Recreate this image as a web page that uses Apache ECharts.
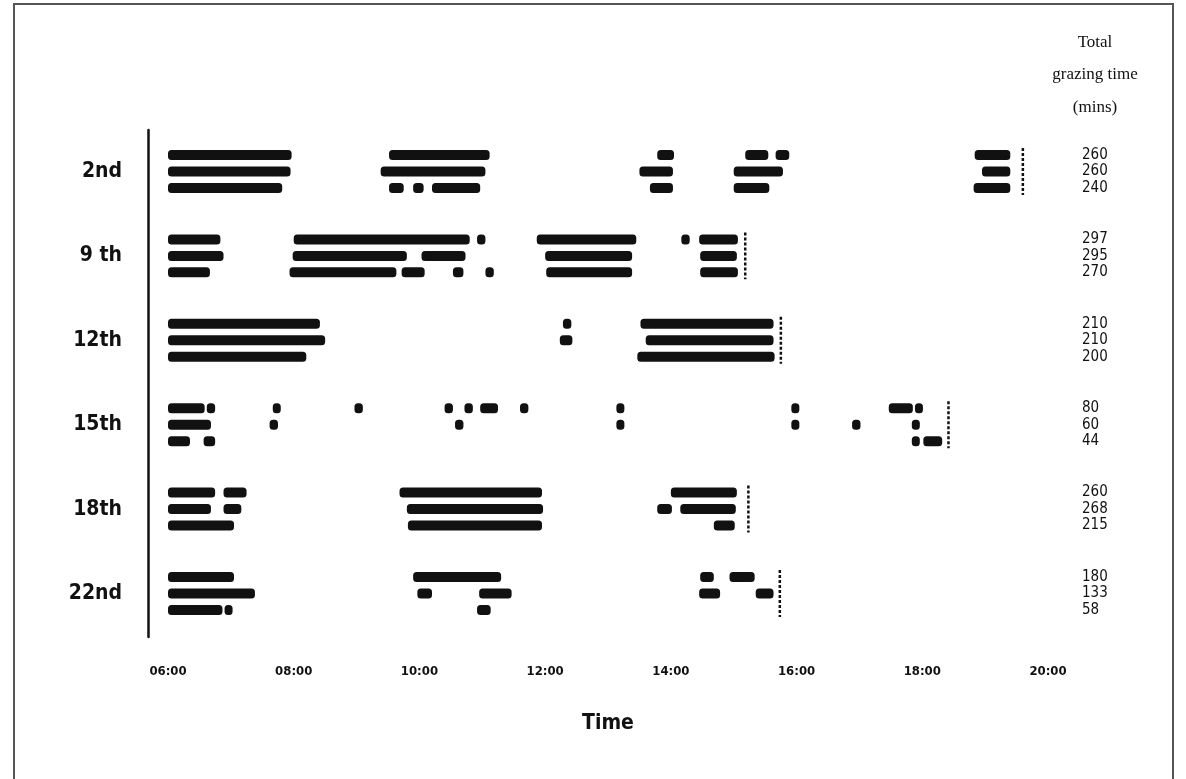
<!DOCTYPE html>
<html>
<head>
<meta charset="utf-8">
<script src="https://cdn.jsdelivr.net/npm/echarts@6/dist/echarts.min.js"></script>
<style>
    html, body { margin: 0; background: #fff; }
    #chart { width: 1186px; height: 779px; }
</style>
</head>
<body>
<div id="chart"></div>
<script>
// days of observation, one group of three animals each
const days = ['2nd', '9 th', '12th', '15th', '18th', '22nd'];

// total grazing time per animal (mins)
const totals = [
    [260, 260, 240],
    [297, 295, 270],
    [210, 210, 200],
    [80, 60, 44],
    [260, 268, 215],
    [180, 133, 58],
];

// end of the observation (dotted line) per day
const endOfWatch = ['19:36', '15:11', '15:45', '18:25', '15:14', '15:44'];

// grazing bouts [start, end], one list per animal
const day2 = [
    [['06:00', '07:58'], ['09:31', '11:07'], ['13:47', '14:03'], ['15:11', '15:33'], ['15:40', '15:53'], ['18:50', '19:24']],
    [['06:00', '07:57'], ['09:23', '11:03'], ['13:30', '14:02'], ['15:00', '15:47'], ['18:57', '19:24']],
    [['06:00', '07:49'], ['09:31', '09:45'], ['09:54', '10:04'], ['10:12', '10:58'], ['13:40', '14:02'], ['15:00', '15:34'], ['18:49', '19:24']],
];
const day9 = [
    [['06:00', '06:50'], ['08:00', '10:48'], ['10:55', '11:03'], ['11:52', '13:27'], ['14:10', '14:18'], ['14:27', '15:04']],
    [['06:00', '06:53'], ['07:59', '09:48'], ['10:02', '10:44'], ['12:00', '13:23'], ['14:28', '15:03']],
    [['06:00', '06:40'], ['07:56', '09:38'], ['09:43', '10:05'], ['10:32', '10:42'], ['11:03', '11:11'], ['12:01', '13:23'], ['14:28', '15:04']],
];
const day12 = [
    [['06:00', '08:25'], ['12:17', '12:25'], ['13:31', '15:38']],
    [['06:00', '08:30'], ['12:14', '12:26'], ['13:36', '15:38']],
    [['06:00', '08:12'], ['13:28', '15:39']],
];
const day15 = [
    [['06:00', '06:35'], ['06:37', '06:45'], ['07:40', '07:45'], ['08:58', '09:06'], ['10:24', '10:32'], ['10:43', '10:51'], ['10:58', '11:15'], ['11:36', '11:44'], ['13:08', '13:14'], ['15:55', '16:02'], ['17:28', '17:51'], ['17:53', '17:59']],
    [['06:00', '06:41'], ['07:37', '07:45'], ['10:34', '10:42'], ['13:08', '13:14'], ['15:55', '16:02'], ['16:53', '17:01'], ['17:50', '17:57']],
    [['06:00', '06:21'], ['06:34', '06:45'], ['17:50', '17:56'], ['18:01', '18:19']],
];
const day18 = [
    [['06:00', '06:45'], ['06:53', '07:15'], ['09:41', '11:57'], ['14:00', '15:03']],
    [['06:00', '06:41'], ['06:53', '07:10'], ['09:48', '11:58'], ['13:47', '14:01'], ['14:09', '15:02']],
    [['06:00', '07:03'], ['09:49', '11:57'], ['14:41', '15:01']],
];
const day22 = [
    [['06:00', '07:03'], ['09:54', '11:18'], ['14:28', '14:41'], ['14:56', '15:20']],
    [['06:00', '07:23'], ['09:58', '10:12'], ['10:57', '11:28'], ['14:27', '14:47'], ['15:21', '15:38']],
    [['06:00', '06:52'], ['06:54', '07:00'], ['10:55', '11:08']],
];

const xTicks = ['06:00', '08:00', '10:00', '12:00', '14:00', '16:00', '18:00', '20:00'];

const allDays = [day2, day9, day12, day15, day18, day22];

// row position on the y scale: three rows per day, days spaced a bit wider
const GROUP_STEP = 5.12;
function rowPos(g, r) {
    return g * GROUP_STEP + r;
}
function hours(t) {
    const p = t.split(':');
    return +p[0] + p[1] / 60;
}

let bouts = [];
allDays.forEach((day, g) => {
    day.forEach((row, r) => {
        row.forEach((b) => {
            bouts.push([hours(b[0]), hours(b[1]), rowPos(g, r)]);
        });
    });
});

let stops = endOfWatch.map((t, g) => [hours(t), rowPos(g, 0), rowPos(g, 2)]);
let dayLabels = days.map((d, g) => [6, rowPos(g, 1), d]);
let totalLabels = [];
totals.forEach((list, g) => {
    list.forEach((v, r) => totalLabels.push([20, rowPos(g, r), String(v)]));
});

const ink = '#111';
const condensed = '"DejaVu Sans Condensed", "DejaVu Sans"';
const serif = '17px "Liberation Serif"';
let chart = echarts.init(document.getElementById('chart'));

chart.setOption({
    backgroundColor: '#fff',
    animation: false,
    graphic: [
        {
            type: 'rect',
            shape: { x: 14, y: 4, width: 1159, height: 790 },
            style: { fill: 'none', stroke: '#555', lineWidth: 2 },
        },
        {
            type: 'text', x: 1095, y: 43,
            style: { text: 'Total', font: serif, fill: ink, align: 'center', verticalAlign: 'middle' },
        },
        {
            type: 'text', x: 1095, y: 75,
            style: { text: 'grazing time', font: serif, fill: ink, align: 'center', verticalAlign: 'middle' },
        },
        {
            type: 'text', x: 1095, y: 108,
            style: { text: '(mins)', font: serif, fill: ink, align: 'center', verticalAlign: 'middle' },
        },
    ],
    grid: {
        left: 168,
        right: 138,
        top: 130,
        bottom: 142,
    },
    xAxis: {
        type: 'value',
        min: 6,
        max: 20,
        interval: 2,
        name: 'Time',
        nameLocation: 'middle',
        nameGap: 76,
        nameTextStyle: { color: ink, fontSize: 21, fontWeight: 'bold', fontFamily: condensed },
        axisLine: { show: false },
        axisTick: { show: false },
        splitLine: { show: false },
        axisLabel: {
            color: ink,
            fontSize: 13,
            fontWeight: 'bold',
            fontFamily: condensed,
            margin: 28,
            formatter: (v) => xTicks[(v - 6) / 2],
        },
    },
    yAxis: {
        type: 'value',
        inverse: true,
        min: -1.516,
        max: 29.24,
        offset: 20,
        axisLine: { show: true, lineStyle: { color: ink, width: 2.5 } },
        axisTick: { show: false },
        axisLabel: { show: false },
        splitLine: { show: false },
    },
    series: [
        {
            type: 'custom',
            name: 'bouts',
            data: bouts,
            renderItem: function (params, api) {
                const a = api.coord([api.value(0), api.value(2)]);
                const b = api.coord([api.value(1), api.value(2)]);
                const h = 10;
                return {
                    type: 'rect',
                    shape: { x: a[0], y: a[1] - h / 2, width: Math.max(b[0] - a[0], 8), height: h, r: 3.5 },
                    style: { fill: ink },
                };
            },
        },
        {
            type: 'custom',
            name: 'end',
            data: stops,
            renderItem: function (params, api) {
                const top = api.coord([api.value(0), api.value(1)]);
                const bot = api.coord([api.value(0), api.value(2)]);
                return {
                    type: 'line',
                    shape: { x1: top[0], y1: top[1] - 7, x2: bot[0], y2: bot[1] + 7 },
                    style: { stroke: ink, lineWidth: 2.5, lineDash: [3, 2] },
                };
            },
        },
        {
            type: 'custom',
            name: 'days',
            data: dayLabels,
            renderItem: function (params, api) {
                const p = api.coord([api.value(0), api.value(1)]);
                return {
                    type: 'text',
                    x: p[0] - 46,
                    y: p[1],
                    style: {
                        text: dayLabels[params.dataIndex][2],
                        fill: ink,
                        font: 'bold 21px ' + condensed,
                        align: 'right',
                        verticalAlign: 'middle',
                    },
                };
            },
        },
        {
            type: 'custom',
            name: 'totals',
            data: totalLabels,
            renderItem: function (params, api) {
                const p = api.coord([api.value(0), api.value(1)]);
                return {
                    type: 'text',
                    x: p[0] + 34,
                    y: p[1],
                    style: {
                        text: totalLabels[params.dataIndex][2],
                        fill: ink,
                        font: '15px ' + condensed,
                        align: 'left',
                        verticalAlign: 'middle',
                    },
                };
            },
        },
    ],
});
</script>
</body>
</html>
